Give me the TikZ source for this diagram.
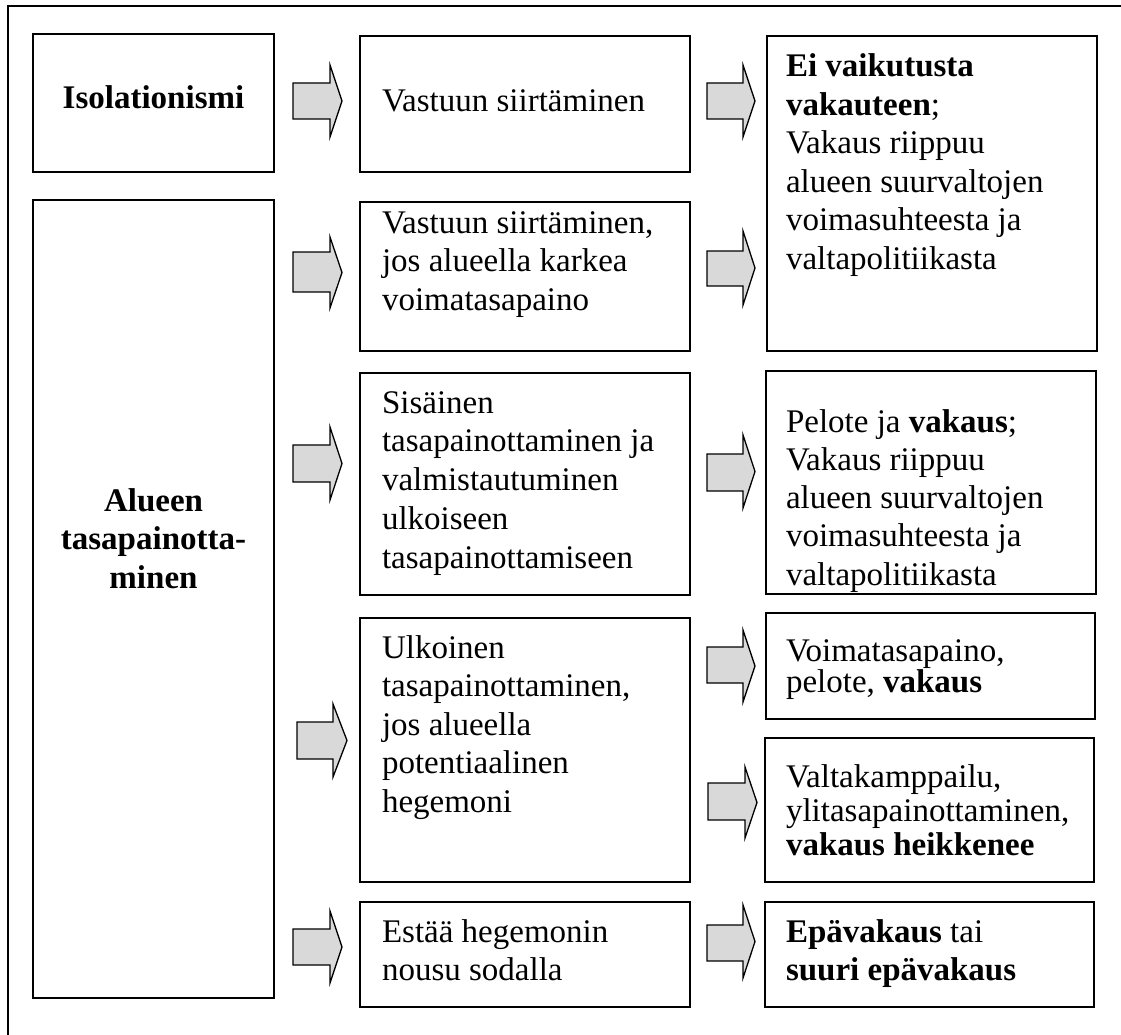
\documentclass[tikz,border=0pt]{standalone}
\usepackage{fontspec}
\setmainfont{Liberation Serif}
\definecolor{arrowgray}{HTML}{D9D9D9}
\newcommand\myarrow[7]{%
  \draw[blockarrow] (#1,#4) -- (#2,#4) -- (#2,#6) -- (#3,{(#6+#7)/2}) -- (#2,#7) -- (#2,#5) -- (#1,#5) -- cycle;}
\newcommand\mybox[5]{%
  \node[boxstyle, minimum width={#4-#2}, minimum height={#5-#3}] (#1) at ({(#2+#4)/2},{(#3+#5)/2}) {};}
\begin{document}
\begin{tikzpicture}[x=1pt,y=-1pt,
  boxstyle/.style={draw, line width=1.5pt, inner sep=0pt, outer sep=0pt},
  blockarrow/.style={draw, fill=arrowgray, line width=1.3pt, line join=miter},
  txt/.style={inner sep=0pt, outer sep=0pt, anchor=north west, align=left, font=\fontsize{33}{38.5}\selectfont},
  ctxt/.style={inner sep=0pt, outer sep=0pt, anchor=north, align=center, font=\fontsize{33}{38.5}\selectfont}]
\useasboundingbox (0,0) rectangle (1121,1035);
% outer frame
\coordinate (fb) at (8,1040);
\coordinate (fc) at (8,6);
\coordinate (fr) at (1125,6);
\draw[line width=1.5pt] (fb) -- (fc) -- (fr);
% boxes
\mybox{l1}{33}{34}{274}{172}
\mybox{l2}{33}{200}{274}{998}
\mybox{m1}{360}{36}{690}{172}
\mybox{m2}{360}{202}{690}{351}
\mybox{m3}{360}{373}{690}{595}
\mybox{m4}{360}{618}{690}{882}
\mybox{m5}{360}{902}{690}{1007}
\mybox{r1}{767}{36}{1097}{351}
\mybox{r2}{766}{371}{1096}{594}
\mybox{r3}{766}{613}{1095}{719}
\mybox{r4}{765}{738}{1094}{882}
\mybox{r5}{765}{902}{1094}{1007}
% texts (first baseline minus 27)
\node[ctxt] (tl1) at (153.5,82) {\rule{0pt}{27pt}\textbf{Isolationismi}};
\node[ctxt] (tl2) at (153.5,484) {\rule{0pt}{27pt}\textbf{Alueen}\\\textbf{tasapainotta-}\\\textbf{minen}};
\node[txt] (tm1) at (382,85) {\rule{0pt}{27pt}Vastuun siirtäminen};
\node[txt] (tm2) at (382,206) {\rule{0pt}{27pt}Vastuun siirtäminen,\\jos alueella karkea\\voimatasapaino};
\node[txt, font=\fontsize{33}{38.75}\selectfont] (tm3) at (382,386) {\rule{0pt}{27pt}Sisäinen\\tasapainottaminen ja\\valmistautuminen\\ulkoiseen\\tasapainottamiseen};
\node[txt] (tm4) at (382,631) {\rule{0pt}{27pt}Ulkoinen\\tasapainottaminen,\\jos alueella\\potentiaalinen\\hegemoni};
\node[txt, font=\fontsize{33}{38}\selectfont] (tm5) at (382,915) {\rule{0pt}{27pt}Estää hegemonin\\nousu sodalla};
\node[txt, font=\fontsize{33}{38.4}\selectfont] (tr1) at (786,50) {\rule{0pt}{27pt}\textbf{Ei vaikutusta}\\\textbf{vakauteen};\\Vakaus riippuu\\alueen suurvaltojen\\voimasuhteesta ja\\valtapolitiikasta};
\node[txt, font=\fontsize{33}{38.3}\selectfont] (tr2) at (786,405) {\rule{0pt}{27pt}Pelote ja \textbf{vakaus};\\Vakaus riippuu\\alueen suurvaltojen\\voimasuhteesta ja\\valtapolitiikasta};
\node[txt, font=\fontsize{33}{31}\selectfont] (tr3) at (786,634) {\rule{0pt}{27pt}Voimatasapaino,\\pelote, \textbf{vakaus}};
\node[txt, font=\fontsize{33}{34}\selectfont] (tr4) at (786,760) {\rule{0pt}{27pt}Valtakamppailu,\\ylitasapainottaminen,\\\textbf{vakaus heikkenee}};
\node[txt, font=\fontsize{33}{38}\selectfont] (tr5) at (786,915) {\rule{0pt}{27pt}\textbf{Epävakaus} tai\\\textbf{suuri epävakaus}};
% block arrows: x0, xhead, xtip, shaft top, shaft bottom, head top, head bottom
\myarrow{293}{330}{342}{83}{119}{65}{137}
\myarrow{293}{330}{342}{252}{292}{237}{308}
\myarrow{293}{330}{342}{445}{482}{427}{500}
\myarrow{297}{333}{347}{722}{759}{704}{777}
\myarrow{293}{330}{342}{929}{965}{911}{983}
\myarrow{707}{743}{755}{83}{119}{65}{137}
\myarrow{707}{743}{755}{251}{286}{231}{305}
\myarrow{707}{743}{755}{454}{491}{435}{508}
\myarrow{707}{743}{755}{647}{683}{630}{702}
\myarrow{708}{745}{757}{783}{820}{767}{838}
\myarrow{707}{743}{755}{925}{961}{905}{978}
\end{tikzpicture}
\end{document}
